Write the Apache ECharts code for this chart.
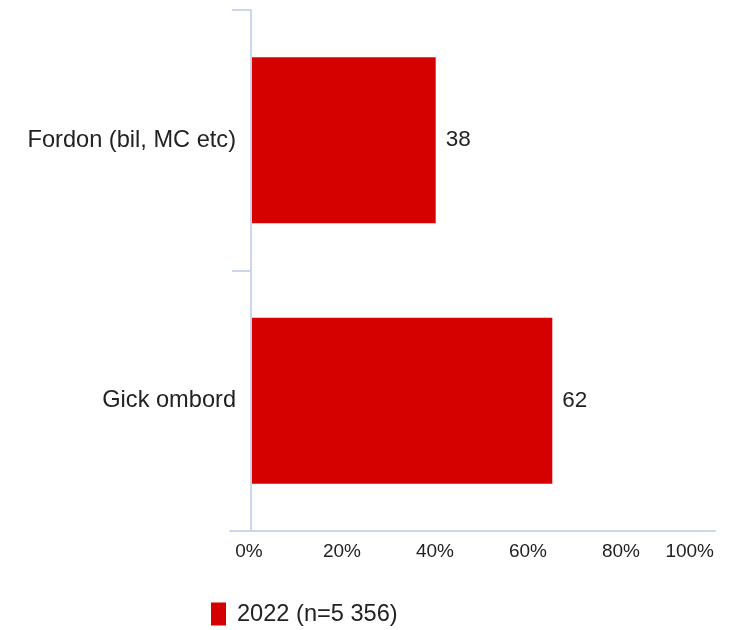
<!DOCTYPE html>
<html>
<head>
<meta charset="utf-8">
<script src="https://cdn.jsdelivr.net/npm/echarts@6/dist/echarts.min.js"></script>
<style>
html,body{margin:0;padding:0;background:#fff;}
#chart{width:749px;height:630px;}
</style>
</head>
<body>
<div id="chart"></div>
<script>
const categories = ['Fordon (bil, MC etc)', 'Gick ombord'];
const values2022 = [38, 62];
const seriesName = '2022 (n=5 356)';
const tickValues = [0, 20, 40, 60, 80, 100];

const FONT = '"Liberation Sans", Arial, sans-serif';
const AXIS_COLOR = '#ccd6eb';

const chart = echarts.init(document.getElementById('chart'), null, {renderer: 'canvas'});
chart.setOption({
  animation: false,
  backgroundColor: '#ffffff',
  textStyle: {fontFamily: FONT},
  grid: [
    {left: 251, right: 12, top: 10, bottom: 99, containLabel: false},
    {left: 230, right: 34, top: 10, bottom: 99, containLabel: false},
    {left: 249, right: 35, top: 10, bottom: 99, containLabel: false}
  ],
  legend: {
    data: [seriesName],
    left: 211,
    top: 602,
    padding: 0,
    icon: 'rect',
    itemWidth: 15,
    itemHeight: 23,
    itemGap: 10,
    textStyle: {fontSize: 23.6, color: '#222', fontFamily: FONT, padding: [7, 0, 0, 6]}
  },
  xAxis: [
    {
      gridIndex: 0, type: 'value', min: 0, max: 100,
      axisLine: {show: false}, axisTick: {show: false},
      axisLabel: {show: false}, splitLine: {show: false}
    },
    {
      gridIndex: 1, type: 'value', min: 0, max: 100,
      axisLine: {show: true, lineStyle: {color: AXIS_COLOR, width: 2}},
      axisTick: {show: false}, axisLabel: {show: false}, splitLine: {show: false}
    },
    {
      gridIndex: 2, type: 'value', min: 0, max: 100, interval: 20,
      axisLine: {show: false}, axisTick: {show: false}, splitLine: {show: false},
      axisLabel: {
        show: true, margin: 11, fontSize: 19, color: '#222', fontFamily: FONT,
        alignMaxLabel: 'right',
        formatter: function (v) { return tickValues.indexOf(v) >= 0 ? v + '%' : ''; }
      }
    }
  ],
  yAxis: [
    {
      gridIndex: 0, type: 'category', data: categories, inverse: true,
      axisLine: {show: true, lineStyle: {color: AXIS_COLOR, width: 2}},
      axisTick: {show: true, length: 19, lineStyle: {color: AXIS_COLOR, width: 2}},
      axisLabel: {fontSize: 23.6, color: '#222', margin: 15, fontFamily: FONT, padding: [6, 0, 0, 0]},
      splitLine: {show: false}, z: 5
    },
    {gridIndex: 1, type: 'value', show: false},
    {gridIndex: 2, type: 'value', show: false}
  ],
  series: [
    {
      name: seriesName,
      type: 'bar',
      xAxisIndex: 0,
      yAxisIndex: 0,
      data: values2022,
      barWidth: 166,
      itemStyle: {color: '#d50000'},
      label: {
        show: true, position: 'right', distance: 10,
        fontSize: 22.5, color: '#222', fontFamily: FONT, padding: [5, 0, 0, 0]
      }
    }
  ]
});
</script>
</body>
</html>
